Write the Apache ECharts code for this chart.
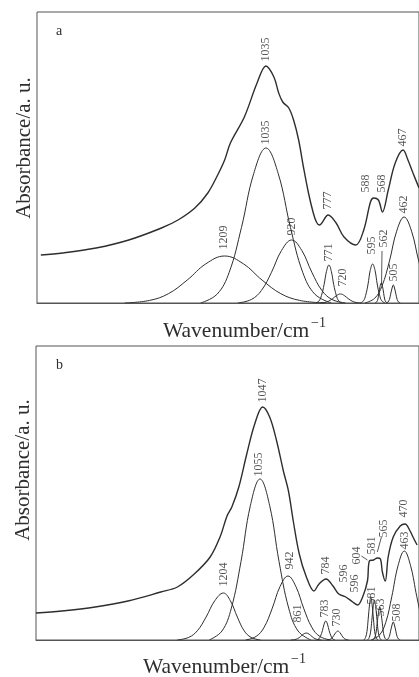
<!DOCTYPE html>
<html>
<head>
<meta charset="utf-8">
<script src="https://cdn.jsdelivr.net/npm/echarts@6/dist/echarts.min.js"></script>
<style>
    html, body { margin: 0; padding: 0; background: #fff; }
    #chart { width: 419px; height: 677px; }
</style>
</head>
<body>
<div id="chart"></div>
<script>
// 波数范围 (cm-1)，x轴反向
var wnMin = 400;
var wnMax = 1990;

// ---- a ----
var sumA = [[1974,48],[1883,50],[1744,55],[1608,63],[1472,75],[1403,83],[1333,95],[1279,110],
    [1238,128],[1209,143],[1185,160],[1127,186],[1074,220],[1037,237],[1004,226],[984,210],[967,201],
    [942,195],[922,183],[901,163],[881,136],[860,110],[840,90],[827,81],[815,78],[778,88],[745,80],
    [712,66],[663,58],[630,73],[602,101],[589,105],[569,103],[552,91],[528,113],[499,140],[466,153],
    [446,143],[425,130],[400,115]];
var bandA1209 = [[1625,0],[1521,2.6],[1443,9.3],[1365,22.9],[1287,39.2],[1209,47],[1131,39.2],[1053,22.9],[975,9.3],[897,2.6],[793,0]];
var bandA1035 = [[1309,0],[1241,8.7],[1190,30.7],[1139,75.5],[1088,129.4],[1037,155],[986,129.4],[935,75.5],[884,30.7],[833,8.7],[765,0]];
var bandA920 = [[1154,0],[1098,3.5],[1056,12.5],[1014,30.7],[972,52.6],[930,63],[888,52.6],[846,30.7],[804,12.5],[762,3.5],[706,0]];
var bandA771 = [[829,0],[816,2.1],[806,7.5],[795,18.5],[785,31.7],[775,38],[765,31.7],[755,18.5],[744,7.5],[734,2.1],[721,0]];
var bandA720 = [[813,0],[792,0.5],[776,1.8],[759,4.4],[743,7.5],[727,9],[711,7.5],[695,4.4],[678,1.8],[662,0.5],[641,0]];
var bandA595 = [[644,0],[631,2.2],[622,7.7],[612,19],[603,32.6],[593,39],[583,32.6],[574,19],[564,7.7],[555,2.2],[542,0]];
var bandA562 = [[583,0],[576,1.1],[571,4],[567,9.7],[562,16.7],[557,20],[552,16.7],[547,9.7],[543,4],[538,1.1],[531,0]];
var bandA505 = [[536,0],[529,1],[523,3.6],[518,8.8],[512,15],[507,18],[502,15],[496,8.8],[491,3.6],[485,1],[478,0]];
var bandA462 = [[625,0],[584,4.8],[554,17],[523,41.9],[493,71.8],[462,86],[431,71.8],[401,41.9],[370,17],[340,4.8],[299,0]];
var labelsA = [[1037,241,'1035'],[1037,158,'1035'],[1212,53,'1209'],[930,67,'920'],[778,93,'777'],
    [776,41,'771'],[715,16,'720'],[620,110,'588'],[556,110,'568'],[595,48,'595'],[548,55,'562'],
    [505,21,'505'],[464,89,'462'],[466,156,'467']];
var leadersA = [[[554,52],[556,18]]];

// ---- b ----
var sumB = [[1990,27],[1883,29],[1744,33],[1608,39],[1472,48],[1403,53],[1333,66],[1267,83],[1226,103],
    [1197,124],[1177,133],[1148,153],[1115,186],[1082,216],[1049,233],[1020,223],[992,200],[963,169],
    [942,149],[922,119],[897,86],[869,64],[836,49],[815,56],[786,61],[757,54],[733,46],[704,43],
    [675,38],[655,35],[634,43],[614,59],[606,79],[589,80],[573,82],[560,81],[552,68],[540,59],
    [528,83],[507,103],[478,114],[458,116],[437,109],[425,103],[408,95]];
var bandB1204 = [[1404,0],[1356,2.6],[1320,9.3],[1284,22.9],[1248,39.2],[1212,47],[1183,39.2],[1154,22.9],[1126,9.3],[1097,2.6],[1058,0]];
var bandB1055 = [[1271,0],[1218,9],[1179,31.9],[1139,78.4],[1100,134.4],[1060,161],[1020,134.4],[981,78.4],[941,31.9],[902,9],[849,0]];
var bandB942 = [[1120,0],[1076,3.6],[1043,12.7],[1010,31.2],[977,53.4],[944,64],[911,53.4],[878,31.2],[845,12.7],[812,3.6],[768,0]];
var bandB861 = [[932,0],[916,0.4],[904,1.4],[892,3.4],[880,5.8],[868,7],[856,5.8],[844,3.4],[832,1.4],[820,0.4],[804,0]];
var bandB783 = [[825,0],[816,1.1],[809,3.8],[801,9.3],[794,15.9],[787,19],[780,15.9],[773,9.3],[765,3.8],[758,1.1],[749,0]];
var bandB730 = [[782,0],[771,0.5],[762,1.8],[754,4.4],[745,7.5],[737,9],[729,7.5],[720,4.4],[712,1.8],[703,0.5],[692,0]];
var bandB596 = [[629,0],[622,2.4],[616,8.5],[611,20.9],[605,35.9],[600,43],[595,35.9],[589,20.9],[584,8.5],[578,2.4],[571,0]];
var bandB581 = [[614,0],[607,2.2],[601,7.9],[596,19.5],[590,33.4],[585,40],[580,33.4],[574,19.5],[569,7.9],[563,2.2],[556,0]];
var bandB563 = [[592,0],[585,1.8],[579,6.5],[574,16.1],[568,27.6],[563,33],[558,27.6],[552,16.1],[547,6.5],[541,1.8],[534,0]];
var bandB508 = [[536,0],[529,1],[523,3.6],[518,8.8],[512,15],[507,18],[502,15],[496,8.8],[491,3.6],[485,1],[478,0]];
var bandB463 = [[599,0],[564,5],[538,17.6],[513,43.3],[487,74.3],[461,89],[435,74.3],[409,43.3],[384,17.6],[358,5],[323,0]];
var labelsB = [[1050,237,'1047'],[1064,163,'1055'],[1212,53,'1204'],[936,70,'942'],[905,17,'861'],
    [786,65,'784'],[792,22,'783'],[739,13,'730'],[710,57,'596'],[665,47,'596'],[657,75,'604'],
    [595,85,'581'],[595,35,'581'],[544,102,'565'],[560,23,'563'],[493,18,'508'],[464,122,'470'],
    [460,90,'463']];
var leadersB = [[[639,84],[614,80]],[[573,88],[556,103]]];

var bandsA = [bandA1209, bandA1035, bandA920, bandA771, bandA720, bandA595, bandA562, bandA505, bandA462];
var bandsB = [bandB1204, bandB1055, bandB942, bandB861, bandB783, bandB730, bandB596, bandB581, bandB563, bandB508, bandB463];

var ink = '#2e2e2e';
var serif = 'Liberation Serif';

var myChart = echarts.init(document.getElementById('chart'));

function lineOf(data, idx, width, smooth) {
    return {
        type: 'line', xAxisIndex: idx, yAxisIndex: idx, data: data,
        showSymbol: false, smooth: smooth, silent: true,
        lineStyle: {color: ink, width: width}
    };
}
function labelsOf(list, idx) {
    return {
        type: 'scatter', xAxisIndex: idx, yAxisIndex: idx, symbolSize: 1, silent: true,
        itemStyle: {color: 'rgba(0,0,0,0)'},
        data: list.map(function (l) { return {value: [l[0], l[1]], name: l[2]}; }),
        label: {
            show: true, position: 'top', distance: 0, rotate: 90, align: 'left', verticalAlign: 'middle',
            formatter: '{b}', fontFamily: serif, fontSize: 12, color: ink
        }
    };
}

var series = [];
series.push(lineOf(sumA, 0, 1.4, 0.35));
bandsA.forEach(function (b) { series.push(lineOf(b, 0, 1, 0.4)); });
leadersA.forEach(function (l) { series.push(lineOf(l, 0, 0.8, false)); });
series.push(labelsOf(labelsA, 0));
series.push(lineOf(sumB, 1, 1.4, 0.35));
bandsB.forEach(function (b) { series.push(lineOf(b, 1, 1, 0.4)); });
leadersB.forEach(function (l) { series.push(lineOf(l, 1, 0.8, false)); });
series.push(labelsOf(labelsB, 1));

var axisX = function (idx) {
    return {
        type: 'value', gridIndex: idx, min: wnMin, max: wnMax, inverse: true,
        axisLine: {show: true, lineStyle: {color: '#555', width: 1}},
        axisTick: {show: false}, axisLabel: {show: false}, splitLine: {show: false}
    };
};
var axisY = function (idx, max) {
    return {
        type: 'value', gridIndex: idx, min: 0, max: max,
        axisLine: {show: false}, axisTick: {show: false}, axisLabel: {show: false}, splitLine: {show: false}
    };
};

var textStyle = function (txt, size) {
    return {text: txt, font: size + 'px "' + serif + '"', fill: ink};
};

option = {
    animation: false,
    backgroundColor: '#fff',
    grid: [
        {left: 37, top: 12, width: 387, height: 291, show: true, borderColor: '#555', borderWidth: 1},
        {left: 36, top: 346, width: 388, height: 294, show: true, borderColor: '#555', borderWidth: 1}
    ],
    xAxis: [axisX(0), axisX(1)],
    yAxis: [axisY(0, 291), axisY(1, 294)],
    series: series,
    graphic: [
        {type: 'text', left: 56, top: 24, style: textStyle('a', 14)},
        {type: 'text', left: 56, top: 358, style: textStyle('b', 14)},
        {type: 'text', x: 163, y: 331, style: Object.assign(textStyle('Wavenumber/cm', 21.5), {textVerticalAlign: 'middle'})},
        {type: 'text', x: 311, y: 323, style: Object.assign(textStyle('\u22121', 14), {textVerticalAlign: 'middle'})},
        {type: 'text', x: 143, y: 667, style: Object.assign(textStyle('Wavenumber/cm', 21.5), {textVerticalAlign: 'middle'})},
        {type: 'text', x: 291, y: 659, style: Object.assign(textStyle('\u22121', 14), {textVerticalAlign: 'middle'})},
        {type: 'text', x: 24, y: 148, rotation: Math.PI / 2,
            style: Object.assign(textStyle('Absorbance/a. u.', 21), {textAlign: 'center', textVerticalAlign: 'middle'})},
        {type: 'text', x: 23, y: 470, rotation: Math.PI / 2,
            style: Object.assign(textStyle('Absorbance/a. u.', 21), {textAlign: 'center', textVerticalAlign: 'middle'})}
    ]
};
myChart.setOption(option);
</script>
</body>
</html>
